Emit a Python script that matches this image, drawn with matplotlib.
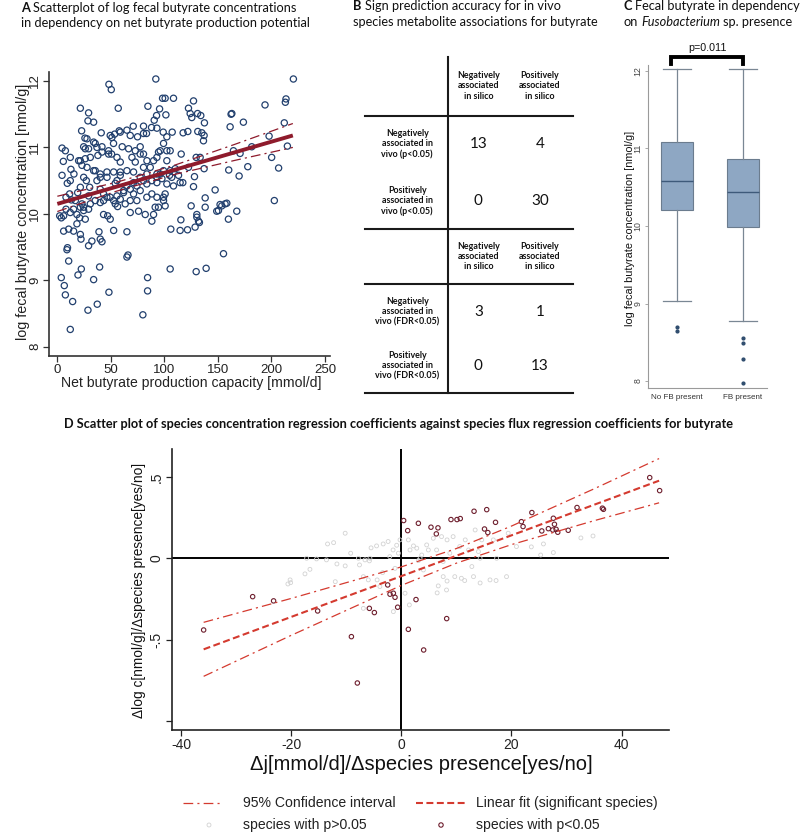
import matplotlib
matplotlib.use('Agg')
import matplotlib.pyplot as plt

plt.rcParams['font.family'] = ['Liberation Sans', 'DejaVu Sans']
plt.rcParams['lines.scale_dashes'] = False

# ---------------- DATA ----------------
# Panel A: net butyrate production capacity vs log fecal butyrate
a_x = [48.2, 50.4, 92, 220.5, 21.5, 29.2, 56.9, 28.6, 33.9, 98.3,
       100.7, 108.5, 84.6, 95.5, 122.5, 127.2, 124.1, 131, 125.6, 134,
       137.4, 101.4, 92.7, 90.5, 88, 80.5, 70.9, 194, 213.6, 213,
       162.3, 173.8, 161.4, 212, 197.8, 214.9, 200.2, 206.7, 202.7, 170.7,
       181.6, 177.9, 169.8, 160.1, 135, 137.1, 136.5, 131.2, 121.9, 117.5,
       107.3, 102.3, 98.9, 93, 83.3, 74.9, 65, 57.8, 53.5, 51,
       41, 22.7, 25.8, 4.4, 7.5, 5.6, 4.4, 9.3, 12.1, 12.7,
       15.5, 8.1, 11.5, 13.1, 2.2, 3.7, 8.1, 5.9, 10.6, 15.2,
       18.3, 20.8, 21.5, 22.1, 9, 9.5, 10.6, 3.7, 6.5, 7.5,
       14.3, 19.3, 22.4, 33.9, 39.5, 37.3, 28.6, 48.2, 12.1, 79.9,
       84.3, 84.3, 65, 65, 105.4, 129.7, 139, 155.2, 106, 114.7,
       121.6, 128.7, 131.9, 130.3, 115.4, 125, 138.1, 138.1, 147.4, 148.9,
       152, 156.7, 158.3, 159.8, 167.6, 127.2, 128.1, 129.7, 133.4, 137.1,
       115.7, 105.4, 106.9, 108.5, 114.7, 117.2, 100.7, 99.2, 91.4, 89.9,
       88.3, 82.1, 75.9, 83.6, 88.3, 93, 94.5, 74.3, 68.1, 63.4,
       56.3, 54.1, 49.4, 47, 43.2, 40.1, 38.9, 40.1, 41.7, 35.4,
       29.2, 30.2, 26.1, 32.3, 29.2, 52.6, 61.9, 54.1, 58.8, 65,
       71.2, 77.4, 80.5, 83.6, 86.8, 89.9, 93, 96.1, 99.2, 102.3,
       102.3, 77.4, 80.5, 72.8, 69.7, 66.6, 60.6, 55.7, 50.7, 47.9,
       41.7, 37.9, 35.4, 30.8, 26.1, 23, 19.9, 24.6, 29.2, 46.3,
       52.6, 58.8, 40.1, 35.4, 37, 24.6, 27.1, 21.5, 19, 16.8,
       23, 29.2, 24.6, 21.5, 15.2, 18.3, 40.1, 43.2, 46.3, 52.6,
       58.8, 68.1, 71.2, 77.4, 83.6, 88.3, 93, 96.1, 105.4, 110.1,
       27.7, 33.9, 37, 26.1, 41.7, 47.9, 58.8, 52.5, 49.4, 58.8,
       68.1, 80.5, 72.8, 77.4, 83.7, 93, 97.7, 102.3, 80.5, 74.3,
       68.1, 61.9, 55.7, 49.4, 43.2, 30.8, 24.5, 12.1, 5.9, 55.7,
       46.4, 40.1, 33.9, 27.7, 21.5, 12.1, 65, 71.2, 163, 164.5,
       150.5, 153.6, 132.7, 122.5, 94.5, 99.2, 93, 104.8, 113.2, 99.2,
       100.7, 130.3, 66]
a_y = [11.95, 11.87, 12.03, 12.03, 11.59, 11.52, 11.59, 11.40, 11.38, 11.74,
       11.74, 11.74, 11.62, 11.58, 11.59, 11.70, 11.51, 11.51, 11.45, 11.48,
       11.37, 11.49, 11.48, 11.41, 11.30, 11.32, 11.32, 11.64, 11.73, 11.68,
       11.50, 11.38, 11.31, 11.37, 11.17, 11.02, 10.85, 10.69, 10.20, 10.91,
       11.01, 10.71, 10.57, 10.66, 11.22, 11.18, 11.10, 11.24, 11.24, 11.22,
       11.23, 11.16, 11.23, 11.29, 11.21, 11.16, 11.26, 11.25, 11.20, 11.15,
       11.22, 11.25, 11.14, 10.99, 10.95, 10.79, 10.58, 10.46, 10.50, 10.67,
       10.60, 10.25, 10.30, 10.21, 9.97, 9.94, 10.07, 9.74, 9.77, 9.74,
       9.85, 9.94, 9.69, 9.62, 9.46, 9.49, 9.29, 9.04, 8.92, 8.78,
       8.68, 9.08, 9.17, 9.01, 9.20, 8.64, 8.55, 8.82, 8.26, 8.48,
       9.04, 8.84, 9.35, 9.73, 9.17, 9.13, 9.18, 9.40, 9.77, 9.75,
       9.76, 9.80, 9.89, 9.99, 9.91, 10.12, 10.24, 10.10, 10.36, 10.04,
       10.14, 10.15, 10.16, 9.92, 10.04, 10.41, 10.56, 10.85, 10.85, 10.68,
       10.90, 10.95, 10.55, 10.42, 10.47, 10.47, 10.30, 10.20, 10.10, 9.99,
       9.89, 9.99, 10.04, 10.25, 10.30, 10.25, 10.10, 10.20, 10.20, 10.15,
       10.11, 10.15, 9.92, 9.97, 9.99, 10.17, 9.73, 9.62, 9.58, 10.20,
       10.27, 10.40, 9.92, 9.59, 9.52, 9.75, 10.35, 10.46, 10.58, 10.42,
       10.47, 10.55, 10.70, 10.60, 10.70, 10.80, 10.85, 10.95, 11.06, 10.95,
       10.80, 11.01, 10.90, 10.78, 10.85, 10.98, 11.01, 10.85, 10.90, 10.95,
       11.01, 10.88, 11.06, 10.85, 10.83, 10.73, 10.80, 11.01, 10.98, 10.63,
       10.63, 10.63, 10.55, 10.65, 10.50, 10.55, 10.50, 10.40, 10.32, 10.20,
       10.15, 10.07, 10.05, 10.10, 10.07, 9.99, 10.37, 10.30, 10.25, 10.20,
       10.22, 10.02, 10.30, 10.35, 10.45, 10.50, 10.47, 10.60, 10.65, 10.68,
       11.13, 11.08, 11.00, 10.98, 10.93, 10.90, 10.78, 11.06, 11.18, 11.23,
       11.18, 11.21, 10.95, 10.90, 10.80, 10.60, 10.53, 10.45, 10.50, 10.42,
       10.37, 10.32, 10.27, 10.25, 10.20, 10.15, 10.10, 10.02, 9.97, 10.50,
       10.55, 10.60, 10.65, 10.70, 10.80, 10.85, 10.65, 10.63, 11.51, 10.95,
       10.05, 10.12, 9.87, 10.70, 10.93, 10.65, 10.55, 10.58, 10.58, 10.25,
       10.12, 9.95, 9.38]
a_fit_x = [0, 220]
a_fit_y = [10.15, 11.18]
a_ci_x = [0, 55, 110, 165, 220]
a_ci_hi = [10.265, 10.474, 10.735, 11.042, 11.36]
a_ci_lo = [10.035, 10.34, 10.595, 10.802, 11.0]

# Panel B: sign prediction tables
b_col_headers = ['Negatively\nassociated\nin silico', 'Positively\nassociated\nin silico']
b_rows_p = ['Negatively\nassociated in\nvivo (p<0.05)', 'Positively\nassociated in\nvivo (p<0.05)']
b_rows_fdr = ['Negatively\nassociated in\nvivo (FDR<0.05)', 'Positively\nassociated in\nvivo (FDR<0.05)']
b_counts_p = [[13, 4], [0, 30]]
b_counts_fdr = [[3, 1], [0, 13]]

# Panel C: boxplots
c_labels = ['No FB present', 'FB present']
c_whislo = [9.03, 8.78]
c_q1 = [10.21, 9.99]
c_med = [10.58, 10.44]
c_q3 = [11.08, 10.86]
c_whishi = [12.02, 12.02]
c_fliers = [[8.70, 8.65], [8.56, 8.49, 8.28, 7.97]]
c_ptext = 'p=0.011'

# Panel D: regression coefficients
d_sig_x = [-35.9, -27.0, -23.2, -15.2, -9.07, -7.99, -5.81, -4.90, -2.48, -2.06,
           -1.45, -1.15, -0.67, 0.42, 1.15, 1.27, 2.66, 3.09, 4.05, 5.38,
           6.35, 6.65, 8.23, 9.01, 10.1, 10.7, 13.2, 15.5, 15.1, 15.7,
           17.1, 21.8, 22.1, 23.7, 25.5, 26.7, 27.6, 27.8, 27.5, 28.1,
           28.4, 30.3, 31.9, 36.5, 36.7, 45.1, 46.9]
d_sig_y = [-0.441, -0.236, -0.262, -0.324, -0.482, -0.767, -0.308, -0.334, -0.164, -0.221,
           -0.215, -0.240, -0.301, 0.232, 0.170, -0.437, -0.254, 0.215, -0.564, 0.191,
           0.150, 0.187, -0.371, 0.238, 0.238, 0.244, 0.289, 0.299, 0.180, 0.158,
           0.221, 0.225, 0.195, 0.281, 0.168, 0.182, 0.246, 0.209, 0.174, 0.178,
           0.160, 0.172, 0.312, 0.308, 0.301, 0.496, 0.416]
d_ns_x = [-10.2, -12.3, -20.2, -20.1, -16.6, -12.0, -11.7, -10.2, -9.2, -7.6,
          -6.6, -5.8, -6.9, -6.0, -4.5, -4.4, -3.9, -3.4, -2.4, -2.1,
          -1.5, -1.15, -0.85, -0.54, -0.24, -1.45, 1.27, 1.57, 2.2, 2.8,
          3.1, 3.7, 4.0, 4.6, 4.9, 5.8, 6.4, 7.3, 7.6, 8.2,
          8.3, 8.8, 9.4, 9.7, 10.6, 10.9, 11.6, 12.2, 13.1, 13.4,
          14.0, 14.6, 16.1, 16.7, 19.1, 19.4, 20.9, 25.8, 27.6, 34.8,
          12.8, 7.6, 0.67, 1.45, -6.9, -17.2, -15.4, -13.6, -7.8, -5.7,
          3.4, 14.3, 17.3, 32.6, 23.6, 25.3, 17.2, 14.3, 11.5, 8.3,
          -20.6, -17.5, -13.4, -5.5, -3.3, 6.5, 6.7]
d_ns_y = [0.154, 0.096, -0.133, -0.150, -0.068, -0.144, -0.035, -0.047, 0.031, -0.041,
          -0.010, -0.016, -0.113, -0.133, 0.076, -0.133, -0.174, -0.088, 0.103, 0.010,
          0.051, -0.062, 0.080, 0.031, 0.113, -0.328, 0.113, 0.051, 0.076, 0.062,
          -0.014, 0.020, -0.072, 0.082, 0.051, 0.123, 0.051, 0.133, -0.113, -0.195,
          0.113, 0.031, 0.133, -0.113, 0.072, -0.123, 0.113, 0.051, -0.113, 0.174,
          0.041, 0.113, -0.133, 0.113, -0.113, 0.154, 0.072, 0.088, 0.035, 0.137,
          -0.051, -0.020, -0.215, -0.287, -0.308, 0.0, -0.004, -0.010, 0.0, 0.0,
          0.0, 0.0, 0.0, 0.125, 0.070, 0.020, -0.137, -0.152, -0.137, -0.140,
          -0.158, -0.096, 0.088, 0.064, 0.088, -0.213, -0.170]
d_fit_x = [-35.9, 46.8]
d_fit_y = [-0.560, 0.477]
d_ci_x = [-35.9, -20, 0, 10, 20, 35, 46.8]
d_ci_hi = [-0.394, -0.247, -0.053, 0.060, 0.198, 0.427, 0.613]
d_ci_lo = [-0.726, -0.474, -0.167, -0.030, 0.084, 0.231, 0.341]

# ---------------- FIGURE ----------------
W, H = 800, 832
fig = plt.figure(figsize=(8, 8.32), dpi=100)
renderer = fig.canvas.get_renderer()


def rect(l, t, r, b):
    return [l / W, 1 - b / H, (r - l) / W, (b - t) / H]


def fx(x):
    return x / W


def fy(y):
    return 1 - y / H


def text_w(s, size, **kw):
    t = fig.text(0, 0, s, fontsize=size, **kw)
    w = t.get_window_extent(renderer).width
    t.remove()
    return w


def fit_size(s, target, **kw):
    return 10 * target / text_w(s, 10, **kw)


def runs(x, y, parts, size, family):
    cx = x
    sp = text_w('x x', size, family=family) - text_w('xx', size, family=family)
    for s, weight, style in parts:
        t = fig.text(fx(cx), fy(y), s, fontsize=size, family=family, weight=weight,
                     style=style, ha='left', va='center', color='#111111')
        cx += t.get_window_extent(renderer).width + sp


# overlay axes in pixel coordinates for layout lines
ov = fig.add_axes([0, 0, 1, 1])
ov.set_xlim(0, W)
ov.set_ylim(H, 0)
ov.axis('off')
ov.patch.set_alpha(0)

TF = 'Lato'
tsize = fit_size('in dependency on net butyrate production potential', 292, family=TF)

# ---- titles
runs(20.7, 7.5, [('A', 'bold', 'normal'), ('Scatterplot of log fecal butyrate concentrations', 'normal', 'normal')], tsize, TF)
runs(20.7, 23.3, [('in dependency on net butyrate production potential', 'normal', 'normal')], tsize, TF)
runs(353.3, 6.5, [('B', 'bold', 'normal'), ('Sign prediction accuracy for in vivo', 'normal', 'normal')], tsize, TF)
runs(353.3, 21.5, [('species metabolite associations for butyrate', 'normal', 'normal')], tsize, TF)
runs(623.3, 6.5, [('C', 'bold', 'normal'), ('Fecal butyrate in dependency', 'normal', 'normal')], tsize, TF)
runs(623.3, 21.5, [('on', 'normal', 'normal'), ('Fusobacterium', 'normal', 'italic'), ('sp. presence', 'normal', 'normal')], tsize, TF)
dtitle = 'D Scatter plot of species concentration regression coefficients against species flux regression coefficients for butyrate'
dsize = fit_size(dtitle, 671, family=TF, weight='bold')
fig.text(fx(63.8), fy(424), dtitle, fontsize=dsize, family=TF, weight='bold', ha='left', va='center', color='#111111')

# ---------------- Panel A ----------------
axA = fig.add_axes(rect(49.3, 71.7, 330, 356))
axA.patch.set_alpha(0)
axA.scatter(a_x, a_y, s=20, facecolors='none', edgecolors='#22406e', linewidths=0.9, zorder=2)
axA.plot(a_ci_x, a_ci_hi, color='#8e1b2c', lw=0.9, dashes=(7, 3, 1.5, 3), zorder=3)
axA.plot(a_ci_x, a_ci_lo, color='#8e1b2c', lw=0.9, dashes=(7, 3, 1.5, 3), zorder=3)
axA.plot(a_fit_x, a_fit_y, color='#8e1b2c', lw=2.8, zorder=4, solid_capstyle='butt')
axA.set_xlim(-7.5, 254.7)
axA.set_ylim(7.86, 12.14)
for s in ['top', 'right']:
    axA.spines[s].set_visible(False)
for s in ['left', 'bottom']:
    axA.spines[s].set_color('#333333')
    axA.spines[s].set_linewidth(1.2)
axA.set_xticks([0, 50, 100, 150, 200, 250])
axA.set_yticks([8, 9, 10, 11, 12])
axA.tick_params(labelsize=9.5, length=4.5, width=0.9, color='#333333', labelcolor='#222222', pad=1.5)
for lab in axA.get_yticklabels():
    lab.set_rotation(90)
    lab.set_va('center')
fs = fit_size('Net butyrate production capacity [mmol/d]', 260)
fig.text(fx(191.7), fy(383.5), 'Net butyrate production capacity [mmol/d]', fontsize=fs, ha='center', va='center', color='#222222')
fs = fit_size('log fecal butyrate concentration [nmol/g]', 257)
fig.text(fx(23), fy(211.5), 'log fecal butyrate concentration [nmol/g]', fontsize=fs, rotation=90, ha='center', va='center', color='#222222')

# ---------------- Panel B ----------------
lc = '#1a1a1a'
ov.plot([448.3, 448.3], [56.7, 392.7], color=lc, lw=1.5)
for yy in [115.7, 229.3, 284, 392.7]:
    ov.plot([365, 573], [yy, yy], color=lc, lw=1.5)
col_x = [478.3, 540]
row_x = 407.3
hsize = fit_size('Negatively', 43, family=TF, weight='bold')
for header_y, rows_y, rlabels, counts in [(86, [144, 201], b_rows_p, b_counts_p),
                                          (256.7, [311.7, 365.7], b_rows_fdr, b_counts_fdr)]:
    for cx, h in zip(col_x, b_col_headers):
        ov.text(cx, header_y, h, fontsize=hsize, family=TF, weight='bold', ha='center', va='center',
                linespacing=1.15, color='#111111')
    for ry, rl, row in zip(rows_y, rlabels, counts):
        ov.text(row_x, ry, rl, fontsize=hsize, family=TF, weight='bold', ha='center', va='center',
                linespacing=1.15, color='#111111')
        for cx, v in zip(col_x, row):
            ov.text(cx, ry, str(v), fontsize=11, family=TF, ha='center', va='center', color='#111111')

# ---------------- Panel C ----------------
axC = fig.add_axes(rect(648.3, 65, 767, 388.3))
axC.patch.set_alpha(0)
stats = []
for i in range(2):
    stats.append(dict(label=c_labels[i], whislo=c_whislo[i], q1=c_q1[i], med=c_med[i],
                      q3=c_q3[i], whishi=c_whishi[i], fliers=c_fliers[i]))
axC.bxp(stats, positions=[1, 2], widths=0.49, capwidths=0.42, patch_artist=True,
        boxprops=dict(facecolor='#8ea7c3', edgecolor='#6b7c8e', linewidth=0.8),
        medianprops=dict(color='#3e5a7a', linewidth=1.0),
        whiskerprops=dict(color='#7a8794', linewidth=0.9),
        capprops=dict(color='#7a8794', linewidth=0.9),
        flierprops=dict(marker='o', markersize=2.0, markerfacecolor='#2f4d6e',
                        markeredgecolor='#2f4d6e'))
axC.set_xlim(0.56, 2.37)
axC.set_ylim(7.906, 12.077)
for s in ['top', 'right']:
    axC.spines[s].set_visible(False)
for s in ['left', 'bottom']:
    axC.spines[s].set_color('#9a9a9a')
    axC.spines[s].set_linewidth(0.8)
axC.set_yticks([8, 9, 10, 11, 12])
axC.tick_params(axis='y', labelsize=6.3, length=2.5, width=0.6, color='#9a9a9a', labelcolor='#444444', pad=1.5)
axC.tick_params(axis='x', labelsize=5.8, length=0, labelcolor='#333333', pad=4)
for lab in axC.get_yticklabels():
    lab.set_rotation(90)
    lab.set_va('center')
fs = fit_size('log fecal butyrate concentration [nmol/g]', 193)
fig.text(fx(630), fy(228), 'log fecal butyrate concentration [nmol/g]', fontsize=fs, rotation=90,
         ha='center', va='center', color='#111111')
# significance bracket
ov.plot([670.7, 670.7, 743.3, 743.3], [64, 57.3, 57.3, 64], color='black', lw=2.8, solid_joinstyle='miter')
psize = fit_size(c_ptext, 38)
ov.text(707.5, 48, c_ptext, fontsize=psize, ha='center', va='center', color='#111111')

# ---------------- Panel D ----------------
axD = fig.add_axes(rect(171.7, 449.3, 669, 730))
axD.patch.set_alpha(0)
axD.axhline(0, color='black', lw=1.4, zorder=1)
axD.axvline(0, color='black', lw=1.4, zorder=1)
axD.scatter(d_ns_x, d_ns_y, s=8, facecolors='none', edgecolors='#d2d2d2', linewidths=0.6, zorder=2)
axD.scatter(d_sig_x, d_sig_y, s=10, facecolors='none', edgecolors='#6e1f2e', linewidths=0.8, zorder=3)
rc = '#d43a2f'
axD.plot(d_ci_x, d_ci_hi, color=rc, lw=0.9, dashes=(7, 3, 1.5, 3), zorder=4)
axD.plot(d_ci_x, d_ci_lo, color=rc, lw=0.9, dashes=(7, 3, 1.5, 3), zorder=4)
axD.plot(d_fit_x, d_fit_y, color=rc, lw=1.5, dashes=(5, 2.5), zorder=4)
axD.set_xlim(-41.7, 48.6)
axD.set_ylim(-1.056, 0.67)
for s in ['top', 'right']:
    axD.spines[s].set_visible(False)
for s in ['left', 'bottom']:
    axD.spines[s].set_color('#222222')
    axD.spines[s].set_linewidth(1.2)
axD.set_xticks([-40, -20, 0, 20, 40])
axD.set_xticklabels(['-40', '-20', '0', '20', '40'])
axD.set_yticks([-1, -0.5, 0, 0.5])
axD.set_yticklabels(['', '-.5', '0', '.5'])
axD.tick_params(labelsize=10, length=4, width=0.9, color='#222222', labelcolor='#222222', pad=2)
for lab in axD.get_yticklabels():
    lab.set_rotation(90)
    lab.set_va('center')
xl = '\u0394j[mmol/d]/\u0394species presence[yes/no]'
fs = fit_size(xl, 342)
fig.text(fx(421), fy(765), xl, fontsize=fs, ha='center', va='center', color='#111111')
yl = '\u0394log c[nmol/g]/\u0394species presence[yes/no]'
fs = fit_size(yl, 255)
fig.text(fx(139), fy(590), yl, fontsize=fs, rotation=90, ha='center', va='center', color='#111111')

# legend (manual, pixel layout)
lsize = fit_size('95% Confidence interval', 152)
ov.plot([182.5, 222.7], [803, 803], color=rc, lw=0.9, dashes=(7, 3, 1.5, 3))
ov.plot([416, 465.7], [803, 803], color=rc, lw=1.5, dashes=(5, 2.5))
ov.scatter([209], [825], s=8, facecolors='none', edgecolors='#d2d2d2', linewidths=0.6)
ov.scatter([441], [825], s=10, facecolors='none', edgecolors='#6e1f2e', linewidths=0.8)
for tx, ty, s in [(243, 803, '95% Confidence interval'), (476, 803, 'Linear fit (significant species)'),
                  (243, 825, 'species with p>0.05'), (476, 825, 'species with p<0.05')]:
    ov.text(tx, ty, s, fontsize=lsize, ha='left', va='center', color='#222222')

fig.savefig('out.png', dpi=100)
